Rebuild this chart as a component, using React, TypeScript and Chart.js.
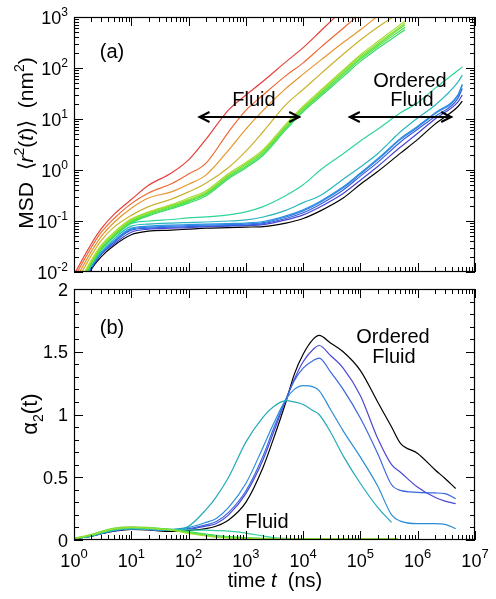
import React, { useEffect, useRef } from "react";
import { Chart, registerables } from "chart.js";

Chart.register(...registerables);

const FONT = '"Liberation Sans", Arial, Helvetica, sans-serif';

// ---------------- Panel (a): MSD <r^2(t)> (nm^2) vs time (ns) ----------------
const timeFluidMSD = [1, 2, 3, 5, 10, 20, 50, 100, 200, 500, 1e3, 2e3, 5e3, 1e4, 2e4, 5e4, 1e5, 2e5, 6e5];
const timeOrderedMSD = [1, 2, 3, 5, 10, 20, 50, 100, 200, 500, 1e3, 2e3, 5e3, 1e4, 2e4, 5e4, 1e5, 2e5, 5e5, 1e6, 2e6, 5e6, 6e6];

const msdRed = [0.0089, 0.0355, 0.0708, 0.135, 0.263, 0.501, 0.871, 1.58, 3.98, 15.1, 29.5, 55.0, 132, 251, 525, 1413];
const msdOrangeRed = [0.00759, 0.0302, 0.0603, 0.112, 0.219, 0.355, 0.537, 0.832, 1.35, 5.62, 14.8, 29.5, 70.8, 126, 251, 603, 1175];
const msdOrange = [0.00631, 0.0251, 0.0501, 0.0933, 0.178, 0.282, 0.372, 0.525, 0.794, 2.45, 6.31, 14.8, 39.8, 75.9, 141, 316, 562, 1047];
const msdOlive = [0.00525, 0.0209, 0.0417, 0.0759, 0.129, 0.191, 0.269, 0.372, 0.55, 1.12, 2.34, 5.62, 19.1, 38.0, 75.9, 186, 355, 631, 1413];
const msdGreen1 = [0.00417, 0.017, 0.0339, 0.0603, 0.11, 0.151, 0.209, 0.282, 0.389, 0.851, 1.41, 2.51, 7.94, 17.8, 36.3, 91.2, 182, 331, 832];
const msdGreen2 = [0.00398, 0.0158, 0.0316, 0.0562, 0.105, 0.145, 0.2, 0.263, 0.363, 0.794, 1.32, 2.34, 7.41, 16.6, 33.9, 85.1, 170, 302, 759];
const msdGreen3 = [0.0038, 0.0151, 0.0302, 0.0537, 0.1, 0.138, 0.191, 0.251, 0.347, 0.759, 1.26, 2.24, 7.08, 15.8, 31.6, 79.4, 158, 282, 708];
const msdGreen4 = [0.00363, 0.0145, 0.0288, 0.0513, 0.0955, 0.132, 0.182, 0.24, 0.331, 0.724, 1.17, 2.09, 6.61, 14.8, 29.5, 74.1, 148, 263, 631];
const msdGreen5 = [0.00347, 0.0138, 0.0275, 0.049, 0.0912, 0.126, 0.174, 0.224, 0.309, 0.676, 1.1, 1.95, 6.17, 13.8, 27.5, 67.6, 135, 240, 562];

const msdSeafoam = [0.00355, 0.0141, 0.0282, 0.0501, 0.0891, 0.1, 0.107, 0.115, 0.12, 0.132, 0.151, 0.191, 0.316, 0.513, 1.0, 2.09, 3.72, 6.31, 13.2, 20.9, 39.8, 89.1, 105];
const msdTeal = [0.00316, 0.0132, 0.0251, 0.0447, 0.0794, 0.0871, 0.0912, 0.0933, 0.0955, 0.1, 0.105, 0.12, 0.162, 0.229, 0.316, 0.661, 1.15, 2.09, 5.62, 10.5, 18.6, 52.5, 72.4];
const msdSky = [0.00309, 0.0129, 0.024, 0.041, 0.0724, 0.0794, 0.0832, 0.0851, 0.0871, 0.0891, 0.0912, 0.0977, 0.126, 0.166, 0.245, 0.468, 0.871, 1.66, 4.17, 7.24, 13.2, 29.5, 47.9];
const msdBlue = [0.00302, 0.0126, 0.0234, 0.0398, 0.0692, 0.0759, 0.0794, 0.0813, 0.0832, 0.0851, 0.0871, 0.0933, 0.12, 0.158, 0.234, 0.447, 0.832, 1.58, 3.98, 6.92, 12.6, 28.2, 45.7];
const msdBlue2 = [0.00288, 0.012, 0.0224, 0.038, 0.0661, 0.0724, 0.0759, 0.0776, 0.0794, 0.0813, 0.0832, 0.0891, 0.112, 0.145, 0.214, 0.407, 0.759, 1.41, 3.55, 6.31, 11.2, 25.1, 39.8];
const msdIndigo = [0.00282, 0.0118, 0.0224, 0.0355, 0.0603, 0.0692, 0.0724, 0.0741, 0.0776, 0.0794, 0.0813, 0.0851, 0.105, 0.132, 0.191, 0.347, 0.631, 1.17, 2.82, 5.25, 10.0, 21.4, 29.5];
const msdBlack = [0.00251, 0.0112, 0.02, 0.0331, 0.0537, 0.0631, 0.0661, 0.0692, 0.0724, 0.0741, 0.0759, 0.0776, 0.0912, 0.112, 0.158, 0.282, 0.525, 0.933, 2.14, 3.98, 7.94, 17.4, 22.4];

// ---------------- Panel (b): alpha_2(t) vs time (ns) ----------------
const timeOrderedAlpha = [1, 2, 3, 5, 10, 20, 30, 50, 100, 200, 300, 500, 1e3, 2e3, 3e3, 5e3, 7e3, 1e4, 1.5e4, 1.9e4, 3e4, 5e4, 1e5, 2e5, 3.5e5, 5e5, 1e6, 2e6, 3e6, 4.6e6];
const timeFluidAlpha = [1, 2, 3, 5, 10, 20, 30, 50, 100, 200, 300, 500, 1e3, 2e3, 3e3, 5e3, 1e4, 2e4, 5e4, 1e5, 2e5, 4.5e5];

const alphaBlack = [0.01, 0.03, 0.05, 0.07, 0.085, 0.08, 0.072, 0.068, 0.075, 0.09, 0.11, 0.16, 0.3, 0.58, 0.8, 1.1, 1.32, 1.48, 1.6, 1.63, 1.57, 1.5, 1.35, 1.1, 0.9, 0.77, 0.69, 0.56, 0.49, 0.41];
const alphaIndigo = [0.01, 0.03, 0.05, 0.072, 0.088, 0.082, 0.076, 0.076, 0.085, 0.11, 0.13, 0.2, 0.37, 0.64, 0.85, 1.12, 1.28, 1.42, 1.52, 1.55, 1.47, 1.37, 1.15, 0.81, 0.6, 0.54, 0.42, 0.34, 0.31, 0.29];
const alphaBlue = [0.01, 0.03, 0.05, 0.074, 0.088, 0.084, 0.08, 0.08, 0.09, 0.12, 0.145, 0.22, 0.39, 0.67, 0.88, 1.12, 1.27, 1.37, 1.43, 1.45, 1.34, 1.2, 0.97, 0.69, 0.44, 0.395, 0.38, 0.375, 0.37, 0.33];
const alphaSky = [0.01, 0.032, 0.052, 0.076, 0.09, 0.086, 0.082, 0.085, 0.1, 0.14, 0.17, 0.26, 0.45, 0.74, 0.92, 1.12, 1.2, 1.23, 1.22, 1.19, 1.04, 0.87, 0.66, 0.43, 0.2, 0.15, 0.13, 0.13, 0.125, 0.09];
const alphaTeal = [0.01, 0.033, 0.055, 0.08, 0.095, 0.086, 0.078, 0.076, 0.11, 0.24, 0.34, 0.5, 0.78, 0.98, 1.06, 1.11, 1.1, 1.08, 1.03, 1.0, 0.86, 0.67, 0.45, 0.26, 0.14];

const alphaGreenA = [0.012, 0.045, 0.07, 0.095, 0.105, 0.1, 0.092, 0.082, 0.058, 0.037, 0.027, 0.019, 0.014, 0.011, 0.01, 0.009, 0.009, 0.008, 0.009, 0.01, 0.009, 0.01];
const alphaGreenB = [0.012, 0.04, 0.065, 0.09, 0.1, 0.097, 0.09, 0.08, 0.06, 0.042, 0.032, 0.024, 0.016, 0.012, 0.01, 0.009, 0.008, 0.009, 0.008, 0.009, 0.01, 0.011];
const alphaGreenC = [0.012, 0.035, 0.06, 0.085, 0.098, 0.097, 0.093, 0.085, 0.066, 0.048, 0.038, 0.028, 0.019, 0.013, 0.011, 0.01, 0.009, 0.008, 0.009, 0.009, 0.01, 0.01];
const alphaGreenD = [0.012, 0.04, 0.062, 0.088, 0.1, 0.095, 0.088, 0.078, 0.052, 0.032, 0.022, 0.016, 0.012, 0.01, 0.009, 0.008, 0.008, 0.009, 0.008, 0.008, 0.009, 0.009];
const alphaSeafoam = [0.012, 0.035, 0.058, 0.08, 0.09, 0.088, 0.085, 0.083, 0.08, 0.078, 0.075, 0.07, 0.055, 0.032, 0.02, 0.013, 0.01, 0.009, 0.009, 0.008, 0.009, 0.009];

// ---------------- axes / tick labels ----------------
const xDecades = [0, 1, 2, 3, 4, 5, 6, 7];
const msdDecades = [-2, -1, 0, 1, 2, 3];
const alphaMajorTicks = [0, 0.5, 1, 1.5, 2];
const alphaTickLabels = ["0", "0.5", "1", "1.5", "2"];
const minorMultipliers = [2, 3, 4, 5, 6, 7, 8, 9];

// annotation arrows (data coordinates)
const fluidArrow = { from: 149, to: 8900, msd: 10.9 };
const orderedArrow = { from: 62700, to: 4.0e6, msd: 10.9 };

type Seg = { t: string; it?: boolean; sup?: boolean; sub?: boolean };

function drawRich(
  ctx: CanvasRenderingContext2D,
  segs: Seg[],
  x: number,
  y: number,
  size: number,
  align: "left" | "center" | "right",
  small: number,
  raise: number,
  lower: number
) {
  const fontOf = (s: Seg) => `${s.it ? "italic " : ""}${s.sup || s.sub ? small : size}px ${FONT}`;
  let w = 0;
  for (const s of segs) {
    ctx.font = fontOf(s);
    w += ctx.measureText(s.t).width;
  }
  let cx = align === "left" ? x : align === "center" ? x - w / 2 : x - w;
  ctx.textAlign = "left";
  ctx.textBaseline = "alphabetic";
  for (const s of segs) {
    ctx.font = fontOf(s);
    const dy = s.sup ? -raise : s.sub ? lower : 0;
    ctx.fillText(s.t, cx, y + dy);
    cx += ctx.measureText(s.t).width;
  }
}

function drawArrow(ctx: CanvasRenderingContext2D, x1: number, x2: number, y: number) {
  ctx.save();
  ctx.strokeStyle = "#000";
  ctx.lineWidth = 2;
  ctx.beginPath();
  ctx.moveTo(x1, y);
  ctx.lineTo(x2, y);
  ctx.moveTo(x1 + 11, y - 5);
  ctx.lineTo(x1 + 1, y);
  ctx.lineTo(x1 + 11, y + 5);
  ctx.moveTo(x2 - 11, y - 5);
  ctx.lineTo(x2 - 1, y);
  ctx.lineTo(x2 - 11, y + 5);
  ctx.stroke();
  ctx.restore();
}

function drawXTicks(ctx: CanvasRenderingContext2D, chart: any) {
  const xs = chart.scales.x;
  const { top, bottom } = chart.chartArea;
  ctx.beginPath();
  xDecades.forEach((d, i) => {
    const base = Math.pow(10, d);
    const px = Math.round(xs.getPixelForValue(base)) + 0.5;
    ctx.moveTo(px, bottom);
    ctx.lineTo(px, bottom - 9);
    ctx.moveTo(px, top);
    ctx.lineTo(px, top + 9);
    if (i < xDecades.length - 1) {
      minorMultipliers.forEach((m) => {
        const p = Math.round(xs.getPixelForValue(m * base)) + 0.5;
        ctx.moveTo(p, bottom);
        ctx.lineTo(p, bottom - 5);
        ctx.moveTo(p, top);
        ctx.lineTo(p, top + 5);
      });
    }
  });
  ctx.stroke();
}

function frame(ctx: CanvasRenderingContext2D, chart: any) {
  const { left, right, top, bottom } = chart.chartArea;
  ctx.strokeRect(left + 0.5, top + 0.5, right - left - 1, bottom - top - 1);
}

const panelAPlugin = {
  id: "panelA",
  afterDatasetsDraw(chart: any) {
    const ctx: CanvasRenderingContext2D = chart.ctx;
    const { left, right } = chart.chartArea;
    const xs = chart.scales.x;
    const ys = chart.scales.y;
    ctx.save();
    ctx.strokeStyle = "#000";
    ctx.fillStyle = "#000";
    ctx.lineWidth = 1.2;
    frame(ctx, chart);
    ctx.lineWidth = 1;
    drawXTicks(ctx, chart);
    ctx.beginPath();
    msdDecades.forEach((d, i) => {
      const base = Math.pow(10, d);
      const py = Math.round(ys.getPixelForValue(base)) + 0.5;
      ctx.moveTo(left, py);
      ctx.lineTo(left + 9, py);
      ctx.moveTo(right, py);
      ctx.lineTo(right - 9, py);
      if (i < msdDecades.length - 1) {
        minorMultipliers.forEach((m) => {
          const p = Math.round(ys.getPixelForValue(m * base)) + 0.5;
          ctx.moveTo(left, p);
          ctx.lineTo(left + 5, p);
          ctx.moveTo(right, p);
          ctx.lineTo(right - 5, p);
        });
      }
    });
    ctx.stroke();
    // y tick labels
    msdDecades.forEach((d) => {
      const py = ys.getPixelForValue(Math.pow(10, d));
      drawRich(ctx, [{ t: "10" }, { t: String(d), sup: true }], 68, py + 7, 18, "right", 12, 8, 0);
    });
    // y title
    ctx.save();
    ctx.translate(33, 143);
    ctx.rotate(-Math.PI / 2);
    drawRich(
      ctx,
      [
        { t: "MSD  \u27E8" },
        { t: "r", it: true },
        { t: "2", sup: true },
        { t: "(" },
        { t: "t", it: true },
        { t: ")\u27E9  (nm" },
        { t: "2", sup: true },
        { t: ")" },
      ],
      0,
      0,
      21,
      "center",
      14,
      9,
      0
    );
    ctx.restore();
    // annotations
    drawRich(ctx, [{ t: "(a)" }], 112, 58, 20, "center", 13, 8, 0);
    drawRich(ctx, [{ t: "Fluid" }], 254, 106, 20, "center", 13, 8, 0);
    drawRich(ctx, [{ t: "Ordered" }], 410, 87, 20, "center", 13, 8, 0);
    drawRich(ctx, [{ t: "Fluid" }], 412, 106, 20, "center", 13, 8, 0);
    drawArrow(ctx, xs.getPixelForValue(fluidArrow.from), xs.getPixelForValue(fluidArrow.to), Math.round(ys.getPixelForValue(fluidArrow.msd)));
    drawArrow(ctx, xs.getPixelForValue(orderedArrow.from), xs.getPixelForValue(orderedArrow.to), Math.round(ys.getPixelForValue(orderedArrow.msd)));
    ctx.restore();
  },
};

const panelBPlugin = {
  id: "panelB",
  afterDatasetsDraw(chart: any) {
    const ctx: CanvasRenderingContext2D = chart.ctx;
    const { left, right, bottom } = chart.chartArea;
    const xs = chart.scales.x;
    const ys = chart.scales.y;
    ctx.save();
    ctx.strokeStyle = "#000";
    ctx.fillStyle = "#000";
    ctx.lineWidth = 1.2;
    frame(ctx, chart);
    ctx.lineWidth = 1;
    drawXTicks(ctx, chart);
    ctx.beginPath();
    for (let k = 0; k <= 20; k++) {
      const v = k / 10;
      const major = k % 5 === 0;
      const py = Math.round(ys.getPixelForValue(v)) + 0.5;
      const len = major ? 9 : 5;
      ctx.moveTo(left, py);
      ctx.lineTo(left + len, py);
      ctx.moveTo(right, py);
      ctx.lineTo(right - len, py);
    }
    ctx.stroke();
    alphaMajorTicks.forEach((v, i) => {
      const py = ys.getPixelForValue(v);
      drawRich(ctx, [{ t: alphaTickLabels[i] }], 68, py + 6.5, 18, "right", 12, 8, 0);
    });
    xDecades.forEach((d) => {
      const px = xs.getPixelForValue(Math.pow(10, d));
      drawRich(ctx, [{ t: "10" }, { t: String(d), sup: true }], px, bottom + 27, 18, "center", 13, 9, 0);
    });
    // x title
    drawRich(ctx, [{ t: "time " }, { t: "t", it: true }, { t: "  (ns)" }], 275, bottom + 47, 20, "center", 13, 8, 0);
    // y title
    ctx.save();
    ctx.translate(37, 134);
    ctx.rotate(-Math.PI / 2);
    drawRich(ctx, [{ t: "\u03B1" }, { t: "2", sub: true }, { t: "(t)" }], 0, 0, 22, "center", 14, 8, 6);
    ctx.restore();
    // annotations
    drawRich(ctx, [{ t: "(b)" }], 112, 54, 20, "center", 13, 8, 0);
    drawRich(ctx, [{ t: "Ordered" }], 393, 63, 20, "center", 13, 8, 0);
    drawRich(ctx, [{ t: "Fluid" }], 394, 83, 20, "center", 13, 8, 0);
    drawRich(ctx, [{ t: "Fluid" }], 267, 248, 20, "center", 13, 8, 0);
    ctx.restore();
  },
};

function series(times: number[], vals: number[], color: string) {
  return {
    data: vals.map((v, i) => ({ x: times[i], y: v })),
    borderColor: color,
    backgroundColor: color,
    borderWidth: 1.2,
    pointRadius: 0,
    fill: false,
    cubicInterpolationMode: "monotone" as const,
  };
}

const baseOptions = (yScale: any, padding: any) => ({
  responsive: false,
  animation: false as const,
  devicePixelRatio: 1,
  layout: { padding },
  plugins: { legend: { display: false }, tooltip: { enabled: false }, title: { display: false } },
  events: [] as any[],
  scales: {
    x: { type: "logarithmic" as const, min: 1, max: 1e7, display: false },
    y: yScale,
  },
});

export default function App() {
  const refA = useRef<HTMLCanvasElement | null>(null);
  const refB = useRef<HTMLCanvasElement | null>(null);

  useEffect(() => {
    document.body.style.margin = "0";
    const chartA = new Chart(refA.current as HTMLCanvasElement, {
      type: "line",
      data: {
        datasets: [
          series(timeFluidMSD, msdRed, "#e6403c"),
          series(timeFluidMSD, msdOrangeRed, "#ee6830"),
          series(timeFluidMSD, msdOrange, "#e8942a"),
          series(timeFluidMSD, msdOlive, "#ccb02c"),
          series(timeFluidMSD, msdGreen1, "#a8da30"),
          series(timeFluidMSD, msdGreen2, "#86e032"),
          series(timeFluidMSD, msdGreen3, "#62e23c"),
          series(timeFluidMSD, msdGreen4, "#44e04c"),
          series(timeFluidMSD, msdGreen5, "#34dc66"),
          series(timeOrderedMSD, msdSeafoam, "#2fd49c"),
          series(timeOrderedMSD, msdTeal, "#27b6bd"),
          series(timeOrderedMSD, msdSky, "#2a90e0"),
          series(timeOrderedMSD, msdBlue, "#2f78e6"),
          series(timeOrderedMSD, msdBlue2, "#3262dc"),
          series(timeOrderedMSD, msdIndigo, "#4a42d2"),
          series(timeOrderedMSD, msdBlack, "#000000"),
        ],
      },
      options: baseOptions(
        { type: "logarithmic", min: 0.01, max: 1000, display: false },
        { left: 74, right: 21, top: 17, bottom: 8 }
      ) as any,
      plugins: [panelAPlugin],
    });
    const chartB = new Chart(refB.current as HTMLCanvasElement, {
      type: "line",
      data: {
        datasets: [
          series(timeFluidAlpha, alphaGreenD, "#a0dc30"),
          series(timeFluidAlpha, alphaGreenA, "#70e03a"),
          series(timeFluidAlpha, alphaGreenB, "#44e048"),
          series(timeFluidAlpha, alphaGreenC, "#34dc66"),
          series(timeFluidAlpha, alphaSeafoam, "#2fcfa0"),
          series(timeOrderedAlpha, alphaTeal, "#25a9b9"),
          series(timeOrderedAlpha, alphaSky, "#2b8cd8"),
          series(timeOrderedAlpha, alphaBlue, "#3a66de"),
          series(timeOrderedAlpha, alphaIndigo, "#4b47d4"),
          series(timeOrderedAlpha, alphaBlack, "#000000"),
        ],
      },
      options: baseOptions(
        { type: "linear", min: 0, max: 2, display: false },
        { left: 74, right: 21, top: 9, bottom: 59 }
      ) as any,
      plugins: [panelBPlugin],
    });
    return () => {
      chartA.destroy();
      chartB.destroy();
    };
  }, []);

  return (
    <div style={{ position: "relative", width: 496, height: 599, background: "#fff" }}>
      <canvas ref={refA} width={496} height={280} style={{ position: "absolute", left: 0, top: 0, width: 496, height: 280 }} />
      <canvas ref={refB} width={496} height={319} style={{ position: "absolute", left: 0, top: 280, width: 496, height: 319 }} />
    </div>
  );
}
